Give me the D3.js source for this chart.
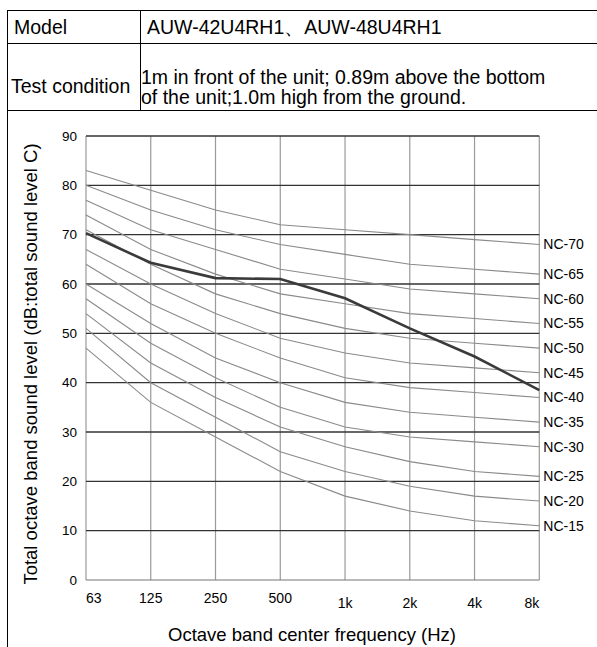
<!DOCTYPE html>
<html>
<head>
<meta charset="utf-8">
<script src="https://cdn.jsdelivr.net/npm/d3@7/dist/d3.min.js"></script>
<style>
  html, body { margin: 0; padding: 0; background: #fff; }
  svg { display: block; font-family: "Liberation Sans", Arial, sans-serif; }
</style>
</head>
<body>
<div id="chart"></div>
<script>
// bandes d'octave (axe x)
var bands = ["63", "125", "250", "500", "1k", "2k", "4k", "8k"];
var yTicks = [0, 10, 20, 30, 40, 50, 60, 70, 80, 90];

// courbes NC
var ncNames = ["NC-70", "NC-65", "NC-60", "NC-55", "NC-50", "NC-45", "NC-40", "NC-35", "NC-30", "NC-25", "NC-20", "NC-15"];
var nc70 = [83, 79, 75, 72, 71, 70, 69, 68];
var nc65 = [80, 75, 71, 68, 66, 64, 63, 62];
var nc60 = [77, 71, 67, 63, 61, 59, 58, 57];
var nc55 = [74, 67, 62, 58, 56, 54, 53, 52];
var nc50 = [71, 64, 58, 54, 51, 49, 48, 47];
var nc45 = [67, 60, 54, 49, 46, 44, 43, 42];
var nc40 = [64, 56, 50, 45, 41, 39, 38, 37];
var nc35 = [60, 52, 45, 40, 36, 34, 33, 32];
var nc30 = [57, 48, 41, 35, 31, 29, 28, 27];
var nc25 = [54, 44, 37, 31, 27, 24, 22, 21];
var nc20 = [51, 40, 33, 26, 22, 19, 17, 16];
var nc15 = [47, 36, 29, 22, 17, 14, 12, 11];

// niveau mesuré de l'unité
var measured = [70.3, 64.3, 61.2, 61.0, 57.1, 51.0, 45.3, 38.5];

var W = 597, H = 647;
var svg = d3.select('#chart').append('svg').attr('width', W).attr('height', H);

/* ---- tableau d'en-tête ---- */
var tbl = svg.append('g');
tbl.append('line').attr('x1', 7).attr('y1', 10.5).attr('x2', W).attr('y2', 10.5).style('stroke', '#000');
tbl.append('line').attr('x1', 7).attr('y1', 43.5).attr('x2', W).attr('y2', 43.5).style('stroke', '#000');
tbl.append('line').attr('x1', 7).attr('y1', 110.5).attr('x2', W).attr('y2', 110.5).style('stroke', '#000');
tbl.append('line').attr('x1', 7.5).attr('y1', 10).attr('x2', 7.5).attr('y2', H).style('stroke', '#000');
tbl.append('line').attr('x1', 140.5).attr('y1', 10).attr('x2', 140.5).attr('y2', 110.5).style('stroke', '#000');

var fs = '19.5px';
tbl.append('text').attr('x', 14).attr('y', 34).style('font-size', fs).text('Model');
tbl.append('text').attr('x', 147).attr('y', 34).style('font-size', fs).text('AUW-42U4RH1、AUW-48U4RH1');
tbl.append('text').attr('x', 11).attr('y', 93).style('font-size', fs).text('Test condition');
tbl.append('text').attr('x', 141).attr('y', 84).style('font-size', fs).text('1m in front of the unit; 0.89m above the bottom');
tbl.append('text').attr('x', 141).attr('y', 104).style('font-size', fs).text('of the unit;1.0m high from the ground.');

/* ---- graphique ---- */
var x = d3.scalePoint().domain(bands).range([86, 539.3]);
var y = d3.scaleLinear().domain([0, 90]).range([580, 136]);

var g = svg.append('g');

// grille verticale
g.selectAll('.vgrid').data(bands).enter().append('line')
    .attr('class', 'vgrid')
    .attr('x1', function(d){ return x(d); }).attr('x2', function(d){ return x(d); })
    .attr('y1', y(90)).attr('y2', y(0))
    .style('stroke', '#9a9a9a').style('stroke-width', 1.2);

// grille horizontale
g.selectAll('.hgrid').data(yTicks).enter().append('line')
    .attr('class', 'hgrid')
    .attr('x1', x(bands[0])).attr('x2', x(bands[bands.length-1]))
    .attr('y1', function(d){ return y(d); }).attr('y2', function(d){ return y(d); })
    .style('stroke', function(d){ return d == 0 ? '#777' : '#333'; })
    .style('stroke-width', function(d){ return d == 0 ? 1.2 : 1.3; });

// courbes NC
var ncSeries = [nc70, nc65, nc60, nc55, nc50, nc45, nc40, nc35, nc30, nc25, nc20, nc15];
var line = d3.line()
    .x(function(d, i){ return x(bands[i]); })
    .y(function(d){ return y(d); });

g.selectAll('.nc').data(ncSeries).enter().append('path')
    .attr('class', 'nc')
    .attr('d', line)
    .style('fill', 'none').style('stroke', '#8a8a8a').style('stroke-width', 1.1);

g.append('path').datum(measured)
    .attr('d', line)
    .style('fill', 'none').style('stroke', '#3a3a3a').style('stroke-width', 2.6);

// étiquettes NC
g.selectAll('.nclabel').data(ncSeries).enter().append('text')
    .attr('class', 'nclabel')
    .attr('x', x(bands[bands.length-1]) + 4)
    .attr('y', function(d){ return y(d[d.length-1]); })
    .attr('dy', '0.35em')
    .style('font-size', '14px')
    .text(function(d, i){ return ncNames[i]; });

// axe y
g.selectAll('.ytick').data(yTicks).enter().append('text')
    .attr('class', 'ytick')
    .attr('x', 77)
    .attr('y', function(d){ return y(d); })
    .attr('dy', '0.35em')
    .attr('text-anchor', 'end')
    .style('font-size', '13.5px')
    .text(function(d){ return d; });

// axe x
g.selectAll('.xtick').data(bands).enter().append('text')
    .attr('class', 'xtick')
    .attr('x', function(d){ return x(d); })
    .attr('y', function(d, i){ return i < 4 ? 603 : 608; })
    .attr('text-anchor', function(d, i){ return i == 0 ? 'start' : (i == bands.length-1 ? 'end' : 'middle'); })
    .style('font-size', '14px')
    .text(function(d){ return d; });

svg.append('text')
    .attr('x', 312).attr('y', 641)
    .attr('text-anchor', 'middle')
    .style('font-size', '18.5px')
    .text('Octave band center frequency (Hz)');

svg.append('text')
    .attr('transform', 'translate(37,364) rotate(-90)')
    .attr('text-anchor', 'middle')
    .style('font-size', '18.5px')
    .text('Total octave band sound level (dB:total sound level C)');
</script>
</body>
</html>
